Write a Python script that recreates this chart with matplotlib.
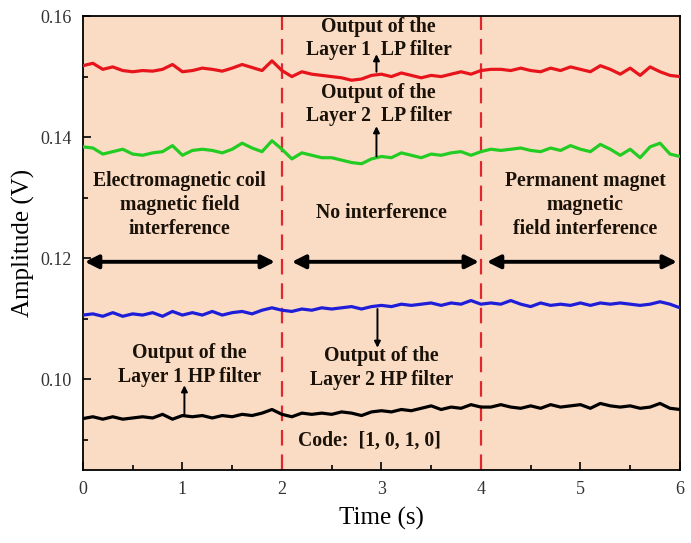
import numpy as np
import matplotlib
matplotlib.use("Agg")
import matplotlib.pyplot as plt
from matplotlib.ticker import MultipleLocator

time_s = [round(0.1 * i, 1) for i in range(61)]

red_lp1 = [0.1518, 0.1522, 0.1512, 0.1516, 0.1510, 0.1508, 0.1510, 0.1509, 0.1512, 0.1520,
           0.1508, 0.1510, 0.1514, 0.1512, 0.1509, 0.1514, 0.1520, 0.1515, 0.1510, 0.1526,
           0.1510, 0.1500, 0.1508, 0.1504, 0.1502, 0.1500, 0.1498, 0.1494, 0.1496, 0.1502,
           0.1504, 0.1500, 0.1506, 0.1502, 0.1498, 0.1502, 0.1500, 0.1504, 0.1508, 0.1504,
           0.1510, 0.1512, 0.1512, 0.1510, 0.1514, 0.1510, 0.1508, 0.1514, 0.1510, 0.1516,
           0.1512, 0.1508, 0.1518, 0.1512, 0.1504, 0.1514, 0.1502, 0.1516, 0.1508, 0.1502,
           0.1500]

green_lp2 = [0.1384, 0.1382, 0.1372, 0.1376, 0.1380, 0.1372, 0.1370, 0.1374, 0.1376, 0.1386,
             0.1370, 0.1378, 0.1380, 0.1378, 0.1374, 0.1380, 0.1390, 0.1382, 0.1376, 0.1394,
             0.1380, 0.1364, 0.1374, 0.1370, 0.1366, 0.1366, 0.1362, 0.1358, 0.1356, 0.1364,
             0.1368, 0.1366, 0.1374, 0.1370, 0.1366, 0.1372, 0.1370, 0.1374, 0.1376, 0.1370,
             0.1376, 0.1380, 0.1378, 0.1380, 0.1382, 0.1378, 0.1376, 0.1382, 0.1378, 0.1386,
             0.1380, 0.1376, 0.1388, 0.1380, 0.1370, 0.1380, 0.1366, 0.1384, 0.1390, 0.1372,
             0.1368]

blue_hp2 = [0.1106, 0.1108, 0.1104, 0.1110, 0.1104, 0.1108, 0.1106, 0.1110, 0.1104, 0.1112,
            0.1106, 0.1110, 0.1106, 0.1112, 0.1106, 0.1110, 0.1112, 0.1108, 0.1114, 0.1118,
            0.1114, 0.1112, 0.1116, 0.1114, 0.1118, 0.1116, 0.1118, 0.1120, 0.1116, 0.1120,
            0.1122, 0.1120, 0.1124, 0.1122, 0.1124, 0.1126, 0.1122, 0.1126, 0.1124, 0.1130,
            0.1124, 0.1126, 0.1124, 0.1130, 0.1124, 0.1120, 0.1126, 0.1122, 0.1124, 0.1122,
            0.1126, 0.1122, 0.1126, 0.1124, 0.1126, 0.1124, 0.1122, 0.1124, 0.1128, 0.1124,
            0.1118]

black_hp1 = [0.0935, 0.0938, 0.0934, 0.0938, 0.0934, 0.0936, 0.0938, 0.0936, 0.0942, 0.0934,
             0.0940, 0.0938, 0.0940, 0.0936, 0.0940, 0.0938, 0.0942, 0.0940, 0.0944, 0.0950,
             0.0942, 0.0938, 0.0944, 0.0942, 0.0944, 0.0942, 0.0946, 0.0944, 0.0940, 0.0946,
             0.0948, 0.0946, 0.0950, 0.0948, 0.0952, 0.0956, 0.0950, 0.0954, 0.0952, 0.0958,
             0.0954, 0.0954, 0.0958, 0.0954, 0.0952, 0.0956, 0.0952, 0.0958, 0.0954, 0.0956,
             0.0958, 0.0952, 0.0960, 0.0956, 0.0954, 0.0956, 0.0952, 0.0954, 0.0960, 0.0952,
             0.0950]

boundaries = [2, 4]
region_labels = ["Electromagnetic coil\nmagnetic field\ninterference",
                 "No interference",
                 "Permanent magnet\nmagnetic\nfield interference"]
x_ticks = [0, 1, 2, 3, 4, 5, 6]
y_ticks = [0.10, 0.12, 0.14, 0.16]

plt.rcParams['font.family'] = ['Liberation Serif', 'DejaVu Serif']

fig = plt.figure(figsize=(6.91, 5.43), dpi=100)
ax = fig.add_axes([0.120, 0.1344, 0.864, 0.836])
ax.set_facecolor('#FADCC5')

lw = 2.3
ax.plot(time_s, red_lp1, color='#E8141C', lw=lw, zorder=3)
ax.plot(time_s, green_lp2, color='#22CC22', lw=lw, zorder=3)
ax.plot(time_s, blue_hp2, color='#1E1ED8', lw=lw, zorder=3)
ax.plot(time_s, black_hp1, color='#000000', lw=lw, zorder=3)

for b in boundaries:
    ax.axvline(b, color='#E0262E', lw=1.6, ls=(0, (7, 4)), zorder=2)

ax.set_xlim(0, 6)
ax.set_ylim(0.085, 0.16)
ax.set_xticks(x_ticks)
ax.set_yticks(y_ticks)
ax.set_yticklabels([f"{v:.2f}" for v in y_ticks])
ax.xaxis.set_minor_locator(MultipleLocator(0.5))
ax.yaxis.set_minor_locator(MultipleLocator(0.01))
ax.tick_params(which='both', direction='in', top=False, right=False,
               labelsize=13, labelcolor='#333333', width=1.2)
ax.tick_params(which='major', length=6, pad=8)
ax.tick_params(which='minor', length=3.5)
for s in ax.spines.values():
    s.set_linewidth(1.3)

ax.set_xlabel("Time (s)", fontsize=18, labelpad=6)
ax.set_ylabel("Amplitude (V)", fontsize=18, labelpad=4)

tc = '#1a1208'
bold = dict(fontsize=14.2, fontweight='bold', color=tc, ha='center', va='center',
            linespacing=1.25, zorder=4)

ax.text(0.97, 0.1288, region_labels[0], **bold)
ax.text(3.0, 0.1275, region_labels[1], **bold)
ax.text(5.05, 0.1288, region_labels[2], **bold)

ax.text(2.97, 0.1563, "Output of the\nLayer 1  LP filter", **bold)
ax.text(2.97, 0.1454, "Output of the\nLayer 2  LP filter", **bold)
ax.text(1.07, 0.1023, "Output of the\nLayer 1 HP filter", **bold)
ax.text(3.0, 0.1018, "Output of the\nLayer 2 HP filter", **bold)
ax.text(2.88, 0.0899, "Code:  [1, 0, 1, 0]", **bold)

# double-headed arrows
arrow_y = 0.1194
spans = [(0.02, 1.93), (2.1, 3.98), (4.06, 5.97)]
for x0, x1 in spans:
    ax.annotate("", xy=(x1, arrow_y), xytext=(x0, arrow_y),
                arrowprops=dict(arrowstyle='<|-|>', color='black', lw=2.8,
                                mutation_scale=20, shrinkA=0, shrinkB=0), zorder=5)

# pointer arrows
ptr = dict(arrowstyle='-|>', color='black', lw=1.4, mutation_scale=9, shrinkA=0, shrinkB=0)
ax.annotate("", xy=(2.95, 0.1537), xytext=(2.95, 0.1508), arrowprops=ptr, zorder=5)
ax.annotate("", xy=(2.95, 0.1418), xytext=(2.95, 0.1368), arrowprops=ptr, zorder=5)
ax.annotate("", xy=(2.96, 0.1052), xytext=(2.96, 0.1116), arrowprops=ptr, zorder=5)
ax.annotate("", xy=(1.02, 0.0990), xytext=(1.02, 0.0940), arrowprops=ptr, zorder=5)

fig.savefig("out.png", dpi=100)
